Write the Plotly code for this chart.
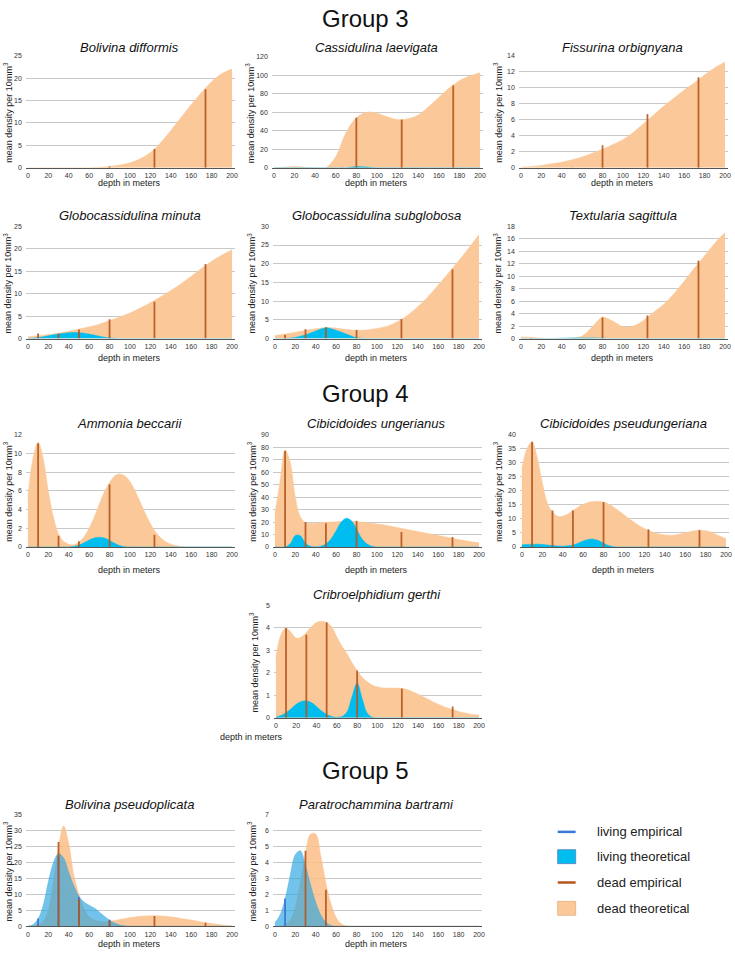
import plotly.graph_objects as go

W, H = 735, 953
FONT = "Liberation Sans, Arial, sans-serif"

# ---------------- data ----------------
DEPTH_10 = [0, 10, 20, 30, 40, 50, 60, 70, 80, 90, 100, 110, 120, 130, 140, 150, 160, 170, 180, 190, 200]
DEPTH_5 = [0, 5, 10, 15, 20, 25, 30, 35, 40, 45, 50, 55, 60, 65, 70, 75, 80, 85, 90, 95, 100,
           105, 110, 115, 120, 125, 130, 135, 140, 145, 150, 155, 160, 165, 170, 175, 180, 185, 190, 195, 200]
STATIONS = [10, 30, 50, 80, 124, 174]
X_TICKS = [0, 20, 40, 60, 80, 100, 120, 140, 160, 180, 200]

# Group 3 (10 m grid)
bdiff_dead_theo = [0, 0, 0, 0, 0, 0, 0.02, 0.1, 0.3, 0.6, 1.1, 2.0, 3.4, 5.6, 8.3, 11.2, 14.1, 16.8, 19.2, 21.0, 22.0]
bdiff_dead_emp = [0, 0, 0, 0.3, 4.2, 17.5]

claev_dead_theo = [0, 0.6, 1.5, 0.6, 0, 0, 12, 38, 54, 60, 59, 55, 52, 53, 57, 66, 76, 86, 94, 99, 102.5]
claev_live_theo = [0, 0, 0, 0, 0, 0, 0, 0, 1.5, 0.8, 0, 0, 0, 0, 0, 0, 0, 0, 0, 0, 0]
claev_dead_emp = [0, 0, 0, 54, 52, 89]

forb_dead_theo = [0.05, 0.15, 0.3, 0.5, 0.7, 1.0, 1.35, 1.8, 2.3, 2.9, 3.5, 4.4, 5.5, 6.6, 7.7, 8.7, 9.7, 10.6, 11.6, 12.5, 13.2]
forb_dead_emp = [0, 0, 0.05, 2.8, 6.7, 11.3]

gmin_dead_theo = [0.4, 0.6, 0.9, 1.2, 1.6, 2.1, 2.6, 3.2, 4.0, 4.8, 5.7, 6.8, 8.0, 9.3, 10.7, 12.2, 13.9, 15.6, 17.2, 18.6, 19.8]
gmin_live_theo = [0, 0.2, 0.6, 1.0, 1.3, 1.3, 1.0, 0.5, 0.15, 0, 0, 0, 0, 0, 0, 0, 0, 0, 0, 0, 0]
gmin_dead_emp = [1.1, 1.1, 2.0, 4.3, 8.2, 16.6]

gsub_dead_theo = [0.8, 1.2, 1.7, 2.2, 2.6, 2.9, 2.8, 2.4, 2.2, 2.3, 2.7, 3.3, 4.5, 6.2, 8.5, 11.2, 14.3, 17.5, 20.8, 24.2, 27.8]
gsub_live_theo = [0, 0, 0.3, 1.0, 2.0, 2.9, 2.2, 1.2, 0.2, 0, 0, 0, 0, 0, 0, 0, 0, 0, 0, 0, 0]
gsub_dead_emp = [1.0, 2.5, 3.0, 2.3, 5.2, 18.5]

tsag_dead_theo = [0.25, 0.2, 0.05, 0, 0, 0.05, 0.4, 1.9, 3.4, 2.8, 1.9, 2.0, 2.9, 4.2, 5.5, 7.2, 9.2, 11.3, 13.3, 15.3, 17.0]
tsag_live_theo = [0, 0, 0, 0, 0.05, 0.1, 0.1, 0.1, 0.05, 0, 0, 0, 0, 0, 0, 0, 0, 0, 0, 0, 0]
tsag_dead_emp = [0.1, 0, 0, 3.4, 3.7, 12.5]

# Group 4 (5 m grid)
abec_dead_theo = [5.3, 9.5, 11.2, 9.5, 6.0, 3.2, 1.4, 0.6, 0.3, 0.25, 0.5, 1.1, 2.0, 3.2, 4.6, 5.9, 6.9, 7.6, 7.8, 7.6, 7.0,
                  6.0, 4.8, 3.6, 2.5, 1.6, 1.0, 0.55, 0.3, 0.15, 0.05, 0, 0, 0, 0, 0, 0, 0, 0, 0, 0]
abec_live_theo = [0, 0, 0, 0, 0, 0, 0, 0, 0, 0.05, 0.2, 0.45, 0.75, 0.95, 1.05, 0.95, 0.7, 0.4, 0.15, 0.03, 0,
                  0, 0, 0, 0, 0, 0, 0, 0, 0, 0, 0, 0, 0, 0, 0, 0, 0, 0, 0, 0]
abec_dead_emp = [11.1, 1.2, 0.6, 6.7, 1.3, 0]

cung_dead_theo = [27, 52, 78, 68, 40, 24, 19.5, 19, 19, 19.5, 19.8, 20, 20.3, 20.5, 20.5, 20.5, 20.3, 20, 19.5, 19, 18.5,
                  18, 17.2, 16.4, 15.6, 14.8, 14, 13.2, 12.4, 11.6, 10.8, 10, 9.2, 8.4, 7.6, 6.8, 6.0, 5.3, 4.6, 3.9, 3.3]
cung_live_theo = [0, 0, 0, 2.5, 9.3, 9.0, 3.0, 0.5, 0.1, 0.5, 2.5, 6.5, 13, 20, 23, 21, 14.5, 7, 2.5, 0.6, 0,
                  0, 0, 0, 0, 0, 0, 0, 0, 0, 0, 0, 0, 0, 0, 0, 0, 0, 0, 0, 0]
cung_dead_emp = [77, 20, 19, 21, 12, 8]

cpse_dead_theo = [28, 35, 37.5, 32, 23, 15.6, 12.5, 11, 11, 11.8, 13, 14.2, 15.2, 15.9, 16.2, 16.3, 16, 15.3, 14.2, 12.9, 11.5,
                  10.1, 8.8, 7.6, 6.6, 5.8, 5.1, 4.6, 4.3, 4.2, 4.3, 4.6, 5.0, 5.5, 5.9, 6.0, 5.8, 5.3, 4.5, 3.7, 3.0]
cpse_live_theo = [0.8, 0.9, 1.0, 1.0, 0.9, 0.7, 0.5, 0.35, 0.3, 0.4, 0.7, 1.3, 2.1, 2.7, 2.8, 2.3, 1.3, 0.5, 0.1, 0, 0,
                  0, 0, 0, 0, 0, 0, 0, 0, 0, 0, 0, 0, 0, 0, 0, 0, 0, 0, 0, 0]
cpse_dead_emp = [37.5, 13, 13, 16, 6.3, 6]

cger_dead_theo = [2.7, 3.7, 4.0, 3.8, 3.55, 3.6, 3.8, 4.05, 4.25, 4.3, 4.25, 4.05, 3.6, 3.2, 2.85, 2.45, 2.1, 1.8, 1.6, 1.45, 1.38,
                  1.33, 1.32, 1.32, 1.32, 1.3, 1.25, 1.15, 1.05, 0.93, 0.82, 0.7, 0.6, 0.5, 0.42, 0.35, 0.28, 0.22, 0.17, 0.14, 0.12]
cger_live_theo = [0.02, 0.1, 0.22, 0.4, 0.6, 0.72, 0.75, 0.68, 0.5, 0.3, 0.15, 0.05, 0.02, 0.05, 0.25, 0.95, 1.55, 0.85, 0.2, 0.02, 0,
                  0, 0, 0, 0, 0, 0, 0, 0, 0, 0, 0, 0, 0, 0, 0, 0, 0, 0, 0, 0]
cger_dead_emp = [4.0, 3.7, 4.25, 2.1, 1.3, 0.5]

# Group 5 (5 m grid)
bpse_dead_theo = [0, 0, 0.3, 1.5, 5, 14, 25, 31.5, 26, 16, 10, 5.5, 3, 2, 1.5, 1.4, 1.5, 1.8, 2.1, 2.4, 2.7,
                  2.9, 3.1, 3.2, 3.25, 3.25, 3.2, 3.1, 2.9, 2.7, 2.45, 2.2, 1.95, 1.65, 1.35, 1.1, 0.85, 0.6, 0.4, 0.25, 0.15]
bpse_live_theo = [0, 0.5, 2.3, 6.5, 14, 20, 22.8, 21.5, 17, 12.7, 9.4, 7.6, 6.6, 5.7, 4.5, 3.1, 1.9, 1.0, 0.4, 0.1, 0,
                  0, 0, 0, 0, 0, 0, 0, 0, 0, 0, 0, 0, 0, 0, 0, 0, 0, 0, 0, 0]
bpse_dead_emp = [0.5, 26.5, 8.5, 1.8, 3.2, 1.1]
bpse_live_emp = [2.4, 22, 9.2, 2.0, 0, 0]

pbar_dead_theo = [0, 0, 0.1, 0.4, 1.2, 2.8, 4.6, 5.8, 5.8, 4.4, 2.7, 1.4, 0.55, 0.15, 0.02, 0, 0, 0, 0, 0, 0,
                  0, 0, 0, 0, 0, 0, 0, 0, 0, 0, 0, 0, 0, 0, 0, 0, 0, 0, 0, 0]
pbar_live_theo = [0.2, 0.7, 1.7, 3.2, 4.5, 4.75, 3.8, 2.6, 1.5, 0.7, 0.25, 0.05, 0, 0, 0, 0, 0, 0, 0, 0, 0,
                  0, 0, 0, 0, 0, 0, 0, 0, 0, 0, 0, 0, 0, 0, 0, 0, 0, 0, 0, 0]
pbar_dead_emp = [0, 4.75, 2.3, 0, 0, 0]
pbar_live_emp = [1.75, 0, 0, 0, 0, 0]

GROUP_TITLES = ["Group 3", "Group 4", "Group 5"]
LEGEND_LABELS = ["living empirical", "living theoretical", "dead empirical", "dead theoretical"]

PANELS = [
    dict(name="Bolivina difformis", grid=DEPTH_10, dead=bdiff_dead_theo, live=None, demp=bdiff_dead_emp, lemp=None, ymax=25, dtick=5, g5=False),
    dict(name="Cassidulina laevigata", grid=DEPTH_10, dead=claev_dead_theo, live=claev_live_theo, demp=claev_dead_emp, lemp=None, ymax=120, dtick=20, g5=False),
    dict(name="Fissurina orbignyana", grid=DEPTH_10, dead=forb_dead_theo, live=None, demp=forb_dead_emp, lemp=None, ymax=14, dtick=2, g5=False),
    dict(name="Globocassidulina minuta", grid=DEPTH_10, dead=gmin_dead_theo, live=gmin_live_theo, demp=gmin_dead_emp, lemp=None, ymax=25, dtick=5, g5=False),
    dict(name="Globocassidulina subglobosa", grid=DEPTH_10, dead=gsub_dead_theo, live=gsub_live_theo, demp=gsub_dead_emp, lemp=None, ymax=30, dtick=5, g5=False),
    dict(name="Textularia sagittula", grid=DEPTH_10, dead=tsag_dead_theo, live=tsag_live_theo, demp=tsag_dead_emp, lemp=None, ymax=18, dtick=2, g5=False),
    dict(name="Ammonia beccarii", grid=DEPTH_5, dead=abec_dead_theo, live=abec_live_theo, demp=abec_dead_emp, lemp=None, ymax=12, dtick=2, g5=False),
    dict(name="Cibicidoides ungerianus", grid=DEPTH_5, dead=cung_dead_theo, live=cung_live_theo, demp=cung_dead_emp, lemp=None, ymax=90, dtick=10, g5=False),
    dict(name="Cibicidoides pseudungeriana", grid=DEPTH_5, dead=cpse_dead_theo, live=cpse_live_theo, demp=cpse_dead_emp, lemp=None, ymax=40, dtick=5, g5=False),
    dict(name="Cribroelphidium gerthi", grid=DEPTH_5, dead=cger_dead_theo, live=cger_live_theo, demp=cger_dead_emp, lemp=None, ymax=5, dtick=1, g5=False),
    dict(name="Bolivina pseudoplicata", grid=DEPTH_5, dead=bpse_dead_theo, live=bpse_live_theo, demp=bpse_dead_emp, lemp=bpse_live_emp, ymax=35, dtick=5, g5=True),
    dict(name="Paratrochammina bartrami", grid=DEPTH_5, dead=pbar_dead_theo, live=pbar_live_theo, demp=pbar_dead_emp, lemp=pbar_live_emp, ymax=7, dtick=1, g5=True),
]

# ---------------- layout geometry (pixels) ----------------
# x0, x1 (depth 0 / 200), y_top (ymax), y_bottom (0), y-title x, panel-title y, x-title x, x-title y
GEOM = [
    (28, 233, 52, 165, 8, 44, None, 180),
    (275, 482, 53, 165, 251, 44, None, 180),
    (523, 728, 52, 165, 500, 44, None, 180),
    (28, 233, 224, 337, 8, 213, None, 357),
    (276, 481, 224, 337, 253, 213, None, 357),
    (523, 728, 224, 337, 500, 213, None, 357),
    (28, 233, 434, 547, 8, 423, None, 570),
    (276, 481, 434, 547, 253, 423, None, 570),
    (524, 729, 434, 547, 500, 423, None, 570),
    (277, 481, 606, 719, 255, 595, 253, 738),
    (28, 233, 817, 929, 8, 806, None, 947),
    (276, 481, 817, 929, 253, 806, None, 947),
]

DEAD_FILL = "#FBC999"
DEAD_BAR = "#B4561E"
LIVE_FILL = "#00BDEF"
LIVE_BAR = "#3D78D8"
DEAD_FILL_G5 = "rgba(251,190,135,0.85)"
LIVE_FILL_G5 = "rgba(40,165,225,0.65)"


def px_x(p):
    return p / W


def px_y(p):
    return 1 - p / H


def stem_trace(values, color, xa, ya, opacity=1.0):
    return go.Scatter(x=STATIONS, y=values, mode="markers", marker=dict(size=0.1, opacity=0),
                      error_y=dict(type="data", symmetric=False, array=[0] * len(STATIONS),
                                   arrayminus=values, width=0, thickness=1.8, color=color),
                      opacity=opacity, xaxis=xa, yaxis=ya, hoverinfo="skip")


fig = go.Figure()
layout = dict(
    width=W, height=H, autosize=False,
    margin=dict(l=0, r=0, t=0, b=0),
    paper_bgcolor="white", plot_bgcolor="white",
    showlegend=False,
    font=dict(family=FONT, color="#222"),
)
annotations = []
shapes = []

XPAD_L, XPAD_R = 2, 3
for i, (p, g) in enumerate(zip(PANELS, GEOM), start=1):
    x0, x1, yt, yb, ylx, tty, xtx, xty = g
    sc = (x1 - x0) / 200.0
    xs = "" if i == 1 else str(i)
    layout["xaxis" + xs] = dict(
        domain=[px_x(x0 - XPAD_L * sc), px_x(x1 + XPAD_R * sc)],
        range=[-XPAD_L, 200 + XPAD_R], anchor="y" + xs,
        tickvals=X_TICKS, showgrid=False, zeroline=False,
        showline=True, linecolor="#555", linewidth=1.2, ticks="",
        tickfont=dict(size=7, color="#333", family=FONT), ticklabelstandoff=1,
        fixedrange=True,
    )
    layout["yaxis" + xs] = dict(
        domain=[px_y(yb), px_y(yt)],
        range=[0, p["ymax"]], anchor="x" + xs, dtick=p["dtick"], tick0=0,
        showgrid=True, gridcolor="#C8C8C8", gridwidth=1, zeroline=False,
        showline=False, ticks="",
        tickfont=dict(size=7, color="#333", family=FONT), ticklabelstandoff=3,
        fixedrange=True,
    )
    xa, ya = "x" + xs, "y" + xs
    dead_fill = DEAD_FILL_G5 if p["g5"] else DEAD_FILL
    live_fill = LIVE_FILL_G5 if p["g5"] else LIVE_FILL
    fig.add_trace(go.Scatter(x=p["grid"], y=p["dead"], mode="lines", fill="tozeroy",
                             fillcolor=dead_fill, line=dict(color=dead_fill, width=0.5, shape="spline", smoothing=1.0),
                             xaxis=xa, yaxis=ya, hoverinfo="skip"))
    if p["live"] is not None:
        fig.add_trace(go.Scatter(x=p["grid"], y=p["live"], mode="lines", fill="tozeroy",
                                 fillcolor=live_fill, line=dict(color=live_fill, width=0.5, shape="spline", smoothing=1.0),
                                 xaxis=xa, yaxis=ya, hoverinfo="skip"))
    if p["lemp"] is not None:
        fig.add_trace(stem_trace(p["lemp"], LIVE_BAR, xa, ya))
    fig.add_trace(stem_trace(p["demp"], DEAD_BAR, xa, ya, opacity=0.9))
    annotations.append(dict(text="<i>" + p["name"] + "</i>", x=px_x((x0 + x1) / 2), y=px_y(tty),
                            xref="paper", yref="paper", showarrow=False, xanchor="center", yanchor="middle",
                            font=dict(size=13, color="#111", family=FONT)))
    annotations.append(dict(text="mean density per 10mm<sup>3</sup>", x=px_x(ylx), y=px_y((yt + yb) / 2),
                            xref="paper", yref="paper", showarrow=False, textangle=-90,
                            xanchor="center", yanchor="middle", font=dict(size=9, color="#222", family=FONT)))
    xc = xtx if xtx is not None else (x0 + x1) / 2
    annotations.append(dict(text="depth in meters", x=px_x(xc), y=px_y(xty),
                            xref="paper", yref="paper", showarrow=False, xanchor="center", yanchor="middle",
                            font=dict(size=9, color="#222", family=FONT)))

for t, gy in zip(GROUP_TITLES, [15, 392, 772]):
    annotations.append(dict(text=t, x=px_x(367), y=px_y(gy), xref="paper", yref="paper", showarrow=False,
                            xanchor="center", yanchor="middle", font=dict(size=24, color="#111", family=FONT)))

leg_y = [834, 859, 885, 911]
for lab, ly, kind, col in zip(LEGEND_LABELS, leg_y, ["line", "box", "line", "box"],
                              [LIVE_BAR, LIVE_FILL, DEAD_BAR, DEAD_FILL]):
    if kind == "line":
        shapes.append(dict(type="line", xref="paper", yref="paper", x0=px_x(560), x1=px_x(578),
                           y0=px_y(ly), y1=px_y(ly), line=dict(color=col, width=2.5)))
    else:
        shapes.append(dict(type="rect", xref="paper", yref="paper", x0=px_x(560), x1=px_x(578),
                           y0=px_y(ly - 7), y1=px_y(ly + 7), fillcolor=col,
                           line=dict(color="#5a8fc8" if col == LIVE_FILL else "#e8b98a", width=1)))
    annotations.append(dict(text=lab, x=px_x(597), y=px_y(ly), xref="paper", yref="paper", showarrow=False,
                            xanchor="left", yanchor="middle", font=dict(size=13, color="#222", family=FONT)))

layout["annotations"] = annotations
layout["shapes"] = shapes
fig.update_layout(**layout)
fig.write_html("out.html", config={"displayModeBar": False},
               post_script="document.body.style.margin='0px';document.body.style.overflow='hidden';")
